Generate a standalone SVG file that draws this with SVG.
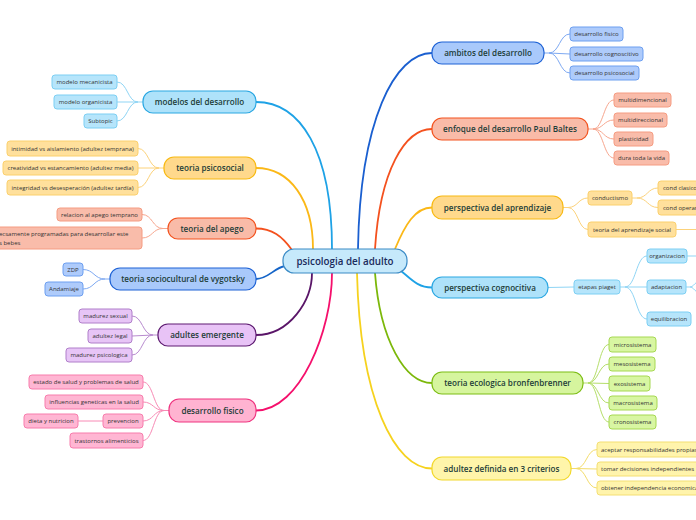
<svg xmlns="http://www.w3.org/2000/svg" width="696" height="520" viewBox="0 0 696 520">
<style>
text{font-family:"Open Sans","Noto Sans","Liberation Sans",sans-serif;}
.mt{font-size:8.1px;font-weight:600;fill:#1d3d38;text-anchor:middle;}
.ct{font-size:9.8px;font-weight:600;fill:#1a2b5c;text-anchor:middle;}
.st{font-size:6px;fill:#333;text-anchor:middle;}
.sl{font-size:6px;fill:#333;}
.main{fill:none;stroke-width:1.8;}
.sub{fill:none;stroke-width:1;}
.nsky{fill:#aee2fa;stroke:#2aa7e2;stroke-width:1.2;}
.ssky{fill:#b6e5fb;stroke:#7ccff3;stroke-width:1;}
.nyel{fill:#ffd98c;stroke:#f8b912;stroke-width:1.2;}
.syel{fill:#ffe09c;stroke:#fbd06c;stroke-width:1;}
.nred{fill:#f9bba8;stroke:#f3531f;stroke-width:1.2;}
.sred{fill:#f9bcaa;stroke:#f59c82;stroke-width:1;}
.nblu{fill:#a9c9fb;stroke:#1f63d6;stroke-width:1.2;}
.sblu{fill:#aecbfb;stroke:#6d9ff0;stroke-width:1;}
.npur{fill:#e8c3f6;stroke:#5e1b72;stroke-width:1.2;}
.spur{fill:#e7c5f6;stroke:#b07fca;stroke-width:1;}
.npnk{fill:#ffb3d1;stroke:#ef3580;stroke-width:1.2;}
.spnk{fill:#ffb6d3;stroke:#f77dac;stroke-width:1;}
.nlim{fill:#d6f59e;stroke:#7dbd15;stroke-width:1.2;}
.slim{fill:#d8f6a2;stroke:#a6d852;stroke-width:1;}
.nlyl{fill:#fff5aa;stroke:#f2d82c;stroke-width:1.2;}
.slyl{fill:#fff4ac;stroke:#f4df72;stroke-width:1;}
</style>
<g id="connectors">
<path class="main" stroke="#1ea2e6" d="M256,102 C300,102 332,150 332,249"/>
<path class="main" stroke="#fbb817" d="M256,168 C290,168 313,200 313,249"/>
<path class="main" stroke="#f4511e" d="M256,228.5 C272,228.5 282,236 292,250"/>
<path class="main" stroke="#1565c8" d="M256,279 C268,279 274,268 285,266"/>
<path class="main" stroke="#5a1568" d="M256,335 C290,335 312,300 312,273"/>
<path class="main" stroke="#f5106c" d="M256,410.5 C300,410.5 332,330 332,273"/>
<path class="main" stroke="#1a5fd0" d="M358,249 C360,120 395,53 432,53"/>
<path class="main" stroke="#f4511e" d="M375,249 C380,170 405,129 432,129"/>
<path class="main" stroke="#fbb817" d="M395,249 C405,225 415,207.5 432,207.5"/>
<path class="main" stroke="#1ea2e6" d="M400,270 C412,280 418,287.5 432,287.5"/>
<path class="main" stroke="#7cb80a" d="M375,273 C380,340 405,383 432,383"/>
<path class="main" stroke="#f6d21e" d="M357,273 C360,400 395,468.5 432,468.5"/>

<g stroke="#8fd5f5" class="sub">
<path d="M143,102 L138,102 C127.5,102 127.5,82 117,82"/>
<path d="M138,102 L117,102"/>
<path d="M138,102 C127.5,102 127.5,121 117,121"/>
</g>
<g stroke="#fcd27a" class="sub">
<path d="M164,168 L159,168 C148.5,168 148.5,148.5 138,148.5"/>
<path d="M159,168 L138,168"/>
<path d="M159,168 C148.5,168 148.5,187.5 138,187.5"/>
</g>
<g stroke="#f7a68e" class="sub">
<path d="M168,228.5 L163,228.5 C152.5,228.5 152.5,214.5 142,214.5"/>
<path d="M163,228.5 C152.5,228.5 152.5,238 142,238"/>
</g>
<g stroke="#7ea9f2" class="sub">
<path d="M110,279 L105,279 C94,279 94,269.5 83,269.5"/>
<path d="M105,279 C94,279 94,289 83,289"/>
</g>
<g stroke="#b88bcf" class="sub">
<path d="M158,335 L153,335 C142.5,335 142.5,316 132,316"/>
<path d="M153,335 L132,336"/>
<path d="M153,335 C142.5,335 142.5,355 132,355"/>
</g>
<g stroke="#f88ab5" class="sub">
<path d="M169,410.5 L164,410.5 C153.5,410.5 153.5,382 143,382"/>
<path d="M164,410.5 C153.5,410.5 153.5,402 143,402"/>
<path d="M164,410.5 C153.5,410.5 153.5,421 143,421"/>
<path d="M164,410.5 C153.5,410.5 153.5,440.5 143,440.5"/>
<path d="M78,421 L103,421"/>
</g>
<g stroke="#7ea9f2" class="sub">
<path d="M544,53 L549,53 C559.5,53 559.5,34 570,34"/>
<path d="M549,53 L570,54"/>
<path d="M549,53 C559.5,53 559.5,73 570,73"/>
</g>
<g stroke="#f7a68e" class="sub">
<path d="M588,129 L593,129 C603.5,129 603.5,100 614,100"/>
<path d="M593,129 C603.5,129 603.5,120 614,120"/>
<path d="M593,129 C603.5,129 603.5,139 614,139"/>
<path d="M593,129 C603.5,129 603.5,158 614,158"/>
</g>
<g stroke="#fcd27a" class="sub">
<path d="M563,207.5 L568,207.5 C578,207.5 578,198 588,198"/>
<path d="M568,207.5 C578,207.5 578,229.5 588,229.5"/>
<path d="M632,198 L637,198 C647.5,198 647.5,188 658,188"/>
<path d="M637,198 C647.5,198 647.5,207.5 658,207.5"/>
<path d="M676,229.5 L696,229.5"/>
</g>
<g stroke="#8fd5f5" class="sub">
<path d="M548,287.5 L574,287"/>
<path d="M620,287 L625,287 C636,287 636,256 647,256"/>
<path d="M625,287 L647,287"/>
<path d="M625,287 C636,287 636,319 647,319"/>
<path d="M687,256 L696,256"/>
<path d="M686,287 L690,287 C693,287 694,284 697,282"/>
<path d="M690,287 C693,287 694,290 697,292"/>
</g>
<g stroke="#b5de6a" class="sub">
<path d="M583,383 L588,383 C598.5,383 598.5,344.5 609,344.5"/>
<path d="M588,383 C598.5,383 598.5,364 609,364"/>
<path d="M588,383 L609,383.5"/>
<path d="M588,383 C598.5,383 598.5,403 609,403"/>
<path d="M588,383 C598.5,383 598.5,422 609,422"/>
</g>
<g stroke="#f3dc6a" class="sub">
<path d="M571,468.5 L576,468.5 C586.5,468.5 586.5,449.5 597,449.5"/>
<path d="M576,468.5 L597,469"/>
<path d="M576,468.5 C586.5,468.5 586.5,488 597,488"/>
</g>
</g>

<g id="center"><rect x="283" y="249" width="124" height="24" rx="11" fill="#c6e9fb" stroke="#3b8bc6" stroke-width="1.2"/><text class="ct" x="345" y="264.5">psicologia del adulto</text></g>

<g id="modelos"><rect class="nsky" x="143" y="91" width="113" height="22" rx="10"/><text class="mt" x="199.5" y="105">modelos del desarrollo</text></g>
<g id="modelo-mecanicista"><rect class="ssky" x="52" y="75" width="65" height="14" rx="3"/><text class="st" x="84.5" y="84">modelo mecanicista</text></g>
<g id="modelo-organicista"><rect class="ssky" x="54" y="95" width="63" height="14" rx="3"/><text class="st" x="85.5" y="104">modelo organicista</text></g>
<g id="subtopic"><rect class="ssky" x="84" y="114" width="33" height="14" rx="3"/><text class="st" x="100.5" y="123">Subtopic</text></g>

<g id="psicosocial"><rect class="nyel" x="164" y="157" width="92" height="22" rx="10"/><text class="mt" x="210" y="171">teoria psicosocial</text></g>
<g id="intimidad"><rect class="syel" x="7" y="141" width="131" height="15" rx="3"/><text class="st" x="72.5" y="150.5">intimidad vs aislamiento (adultez temprana)</text></g>
<g id="creatividad"><rect class="syel" x="3" y="161" width="135" height="14" rx="3"/><text class="st" x="70.5" y="170">creatividad vs estancamiento (adultez media)</text></g>
<g id="integridad"><rect class="syel" x="7" y="180" width="131" height="15" rx="3"/><text class="st" x="72.5" y="189.5">integridad vs desesperación (adultez tardía)</text></g>

<g id="apego"><rect class="nred" x="168" y="218" width="88" height="21" rx="10"/><text class="mt" x="212" y="231.5">teoria del apego</text></g>
<g id="relacion"><rect class="sred" x="57" y="208" width="85" height="13" rx="3"/><text class="st" x="99.5" y="216.5">relacion al apego temprano</text></g>
<g id="programadas"><rect class="sred" x="-5" y="227" width="147" height="22" rx="3"/><text class="sl" x="-1" y="236">ecsamente programadas para desarrollar este</text><text class="sl" x="-1" y="245">s bebes</text></g>

<g id="vygotsky"><rect class="nblu" x="110" y="268" width="146" height="22" rx="10"/><text class="mt" x="183" y="282">teoria sociocultural de vygotsky</text></g>
<g id="zdp"><rect class="sblu" x="63" y="263" width="20" height="13" rx="3"/><text class="st" x="73" y="271.5">ZDP</text></g>
<g id="andamiaje"><rect class="sblu" x="45" y="282" width="38" height="14" rx="3"/><text class="st" x="64" y="291">Andamiaje</text></g>

<g id="adultes"><rect class="npur" x="158" y="324" width="98" height="22" rx="10"/><text class="mt" x="207" y="338">adultes emergente</text></g>
<g id="madurez-sexual"><rect class="spur" x="79" y="309" width="53" height="14" rx="3"/><text class="st" x="105.5" y="318">madurez sexual</text></g>
<g id="adultez-legal"><rect class="spur" x="88" y="329" width="44" height="14" rx="3"/><text class="st" x="110" y="338">adultez legal</text></g>
<g id="madurez-psicologica"><rect class="spur" x="66" y="348" width="66" height="14" rx="3"/><text class="st" x="99" y="357">madurez psicologica</text></g>

<g id="fisico"><rect class="npnk" x="169" y="399" width="87" height="23" rx="10"/><text class="mt" x="212.5" y="413.5">desarrollo fisico</text></g>
<g id="estado"><rect class="spnk" x="29" y="375" width="114" height="14" rx="3"/><text class="st" x="86" y="384">estado de salud y problemas de salud</text></g>
<g id="influencias"><rect class="spnk" x="45" y="395" width="98" height="14" rx="3"/><text class="st" x="94" y="404">influencias geneticas en la salud</text></g>
<g id="prevencion"><rect class="spnk" x="103" y="414" width="40" height="14" rx="3"/><text class="st" x="123" y="423">prevencion</text></g>
<g id="dieta"><rect class="spnk" x="24" y="414" width="54" height="14" rx="3"/><text class="st" x="51" y="423">dieta y nutricion</text></g>
<g id="trastornos"><rect class="spnk" x="70" y="433" width="73" height="15" rx="3"/><text class="st" x="106.5" y="442.5">trastornos alimenticios</text></g>

<g id="ambitos"><rect class="nblu" x="432" y="42" width="112" height="22" rx="10"/><text class="mt" x="488" y="56">ambitos del desarrollo</text></g>
<g id="des-fisico"><rect class="sblu" x="570" y="27" width="53" height="14" rx="3"/><text class="st" x="596.5" y="36">desarrollo fisico</text></g>
<g id="des-cognoscitivo"><rect class="sblu" x="570" y="47" width="73" height="14" rx="3"/><text class="st" x="606.5" y="56">desarrollo cognoscitivo</text></g>
<g id="des-psicosocial"><rect class="sblu" x="570" y="66" width="69" height="14" rx="3"/><text class="st" x="604.5" y="75">desarrollo psicosocial</text></g>

<g id="baltes"><rect class="nred" x="432" y="118" width="156" height="22" rx="10"/><text class="mt" x="510" y="132">enfoque del desarrollo Paul Baltes</text></g>
<g id="multidimencional"><rect class="sred" x="614" y="93" width="57" height="14" rx="3"/><text class="st" x="642.5" y="102">multidimencional</text></g>
<g id="multidireccional"><rect class="sred" x="614" y="113" width="53" height="14" rx="3"/><text class="st" x="640.5" y="122">multidireccional</text></g>
<g id="plasticidad"><rect class="sred" x="614" y="132" width="39" height="14" rx="3"/><text class="st" x="633.5" y="141">plasticidad</text></g>
<g id="dura"><rect class="sred" x="614" y="151" width="55" height="14" rx="3"/><text class="st" x="641.5" y="160">dura toda la vida</text></g>

<g id="aprendizaje"><rect class="nyel" x="432" y="196" width="131" height="23" rx="10"/><text class="mt" x="497.5" y="210.5">perspectiva del aprendizaje</text></g>
<g id="conductismo"><rect class="syel" x="588" y="191" width="44" height="14" rx="3"/><text class="st" x="610" y="200">conductismo</text></g>
<g id="cond-clasico"><rect class="syel" x="658" y="181" width="50" height="14" rx="3"/><text class="sl" x="663" y="190">cond clasico</text></g>
<g id="cond-operante"><rect class="syel" x="658" y="200" width="50" height="15" rx="3"/><text class="sl" x="663" y="209.5">cond operante</text></g>
<g id="aprendizaje-social"><rect class="syel" x="588" y="222" width="88" height="15" rx="3"/><text class="st" x="632" y="231.5">teoria del aprendizaje social</text></g>

<g id="cognocitiva"><rect class="nsky" x="432" y="277" width="116" height="21" rx="10"/><text class="mt" x="490" y="290.5">perspectiva cognocitiva</text></g>
<g id="etapas"><rect class="ssky" x="574" y="280" width="46" height="14" rx="3"/><text class="st" x="597" y="289">etapas piaget</text></g>
<g id="organizacion"><rect class="ssky" x="647" y="249" width="40" height="14" rx="3"/><text class="st" x="667" y="258">organizacion</text></g>
<g id="adaptacion"><rect class="ssky" x="647" y="280" width="39" height="14" rx="3"/><text class="st" x="666.5" y="289">adaptacion</text></g>
<g id="equilibracion"><rect class="ssky" x="647" y="312" width="44" height="14" rx="3"/><text class="st" x="669" y="321">equilibracion</text></g>

<g id="ecologica"><rect class="nlim" x="432" y="372" width="151" height="22" rx="10"/><text class="mt" x="507.5" y="386">teoria ecologica bronfenbrenner</text></g>
<g id="microsistema"><rect class="slim" x="609" y="337" width="47" height="15" rx="3"/><text class="st" x="632.5" y="346.5">microsistema</text></g>
<g id="mesosistema"><rect class="slim" x="609" y="357" width="46" height="14" rx="3"/><text class="st" x="632" y="366">mesosistema</text></g>
<g id="exosistema"><rect class="slim" x="609" y="376" width="41" height="15" rx="3"/><text class="st" x="629.5" y="385.5">exosistema</text></g>
<g id="macrosistema"><rect class="slim" x="609" y="396" width="48" height="14" rx="3"/><text class="st" x="633" y="405">macrosistema</text></g>
<g id="cronosistema"><rect class="slim" x="609" y="415" width="47" height="14" rx="3"/><text class="st" x="632.5" y="424">cronosistema</text></g>

<g id="adultez"><rect class="nlyl" x="432" y="457" width="139" height="23" rx="10"/><text class="mt" x="501.5" y="471.5">adultez definida en 3 criterios</text></g>
<g id="aceptar"><rect class="slyl" x="597" y="442" width="110" height="15" rx="3"/><text class="sl" x="601" y="451.5">aceptar responsabilidades propias</text></g>
<g id="tomar"><rect class="slyl" x="597" y="462" width="102" height="14" rx="3"/><text class="sl" x="601" y="471">tomar decisiones independientes</text></g>
<g id="obtener"><rect class="slyl" x="597" y="481" width="110" height="14" rx="3"/><text class="sl" x="601" y="490">obtener independencia economica</text></g>
</svg>
